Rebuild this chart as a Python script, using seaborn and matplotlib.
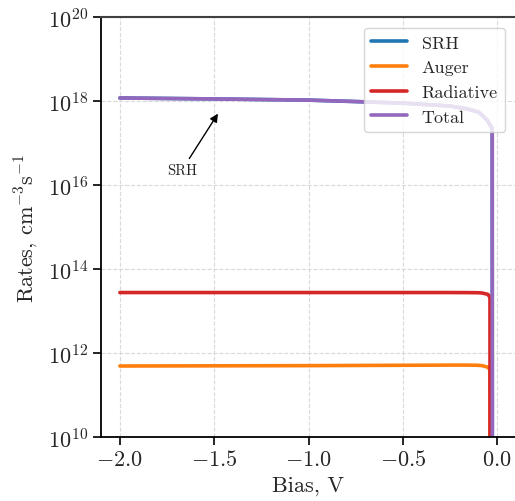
import numpy as np
import pandas as pd
import matplotlib
matplotlib.use("Agg")
import matplotlib.pyplot as plt
import seaborn as sns

# ---- data ----
bias = [-2.0, -1.5, -1.0, -0.75, -0.5, -0.25, -0.16, -0.1, -0.08, -0.05,
        -0.04, -0.038, -0.037, -0.03, -0.026, -0.025, 0.0]
srh = [1.18e18, 1.12e18, 1.05e18, 9.7e17, 8.9e17, 7.6e17, 6.5e17, 5.5e17,
       4.6e17, 3.4e17, 2.8e17, 2.7e17, 2.65e17, 2.4e17, 2.2e17, 1e3, 1e3]
auger = [4.9e11, 4.95e11, 5.0e11, 5.05e11, 5.1e11, 5.15e11, 5.15e11, 5.1e11,
         5.0e11, 4.6e11, 4.1e11, 4.0e11, 1e3, 1e3, 1e3, 1e3, 1e3]
radiative = [2.75e13, 2.75e13, 2.75e13, 2.75e13, 2.75e13, 2.75e13, 2.74e13,
             2.72e13, 2.68e13, 2.5e13, 2.2e13, 2.1e13, 1e3, 1e3, 1e3, 1e3, 1e3]
total = [s + a + r for s, a, r in zip(srh, auger, radiative)]

series_names = ["SRH", "Auger", "Radiative", "Total"]
series_values = [srh, auger, radiative, total]
series_colors = ["#1f77b4", "#ff7f0e", "#d62728", "#9467bd"]

xticks = [-2.0, -1.5, -1.0, -0.5, 0.0]
yticks = [1e10, 1e12, 1e14, 1e16, 1e18, 1e20]

rows = []
for name, vals in zip(series_names, series_values):
    for b, v in zip(bias, vals):
        rows.append({"Bias": b, "Rate": v, "Series": name})
df = pd.DataFrame(rows)

sns.set_style("ticks")
plt.rcParams["font.family"] = "serif"
plt.rcParams["font.serif"] = ["cmr10"]
plt.rcParams["mathtext.fontset"] = "cm"
plt.rcParams["axes.formatter.use_mathtext"] = True
plt.rcParams["axes.unicode_minus"] = True

fig = plt.figure(figsize=(5.15, 5.02), dpi=100)
ax = fig.add_axes([101 / 515, (502 - 438) / 502, 415 / 515, 420 / 502])

sns.lineplot(data=df, x="Bias", y="Rate", hue="Series", hue_order=series_names,
             palette=series_colors, linewidth=2.6, ax=ax, sort=False,
             estimator=None, legend=True)

ax.set_yscale("log")
ax.set_ylim(1e10, 1e20)
ax.set_xlim(-2.1, 0.1)
ax.set_xticks(xticks)
ax.set_yticks(yticks)
ax.yaxis.set_minor_locator(matplotlib.ticker.NullLocator())
ax.xaxis.set_major_formatter(matplotlib.ticker.FormatStrFormatter("$%.1f$"))

ax.grid(True, which="major", linestyle="--", color="#d9d9d9", linewidth=0.8)
ax.set_axisbelow(True)

ax.tick_params(axis="both", which="major", labelsize=16, length=5.5, width=1.2,
               direction="out", color="black")
for side in ["left", "bottom"]:
    ax.spines[side].set_color("black")
    ax.spines[side].set_linewidth(1.3)
ax.spines["top"].set_color("#404040")
ax.spines["top"].set_linewidth(1.5)
ax.spines["right"].set_visible(False)

ax.set_xlabel("Bias, V", fontsize=16)
ax.set_ylabel(r"Rates, cm$^{-3}$s$^{-1}$", fontsize=16, labelpad=6)

ax.annotate("SRH", xy=(-1.48, 5e17), xytext=(-1.67, 2.3e16),
            fontsize=10.5, ha="center", va="center",
            arrowprops=dict(arrowstyle="-|>", color="black", lw=1.0,
                            shrinkA=1, shrinkB=0, mutation_scale=12))

leg = ax.legend(loc="upper right", fontsize=13, frameon=True, framealpha=0.8,
                edgecolor="#cccccc", handlelength=2.0, borderaxespad=0.6)
for line in leg.get_lines():
    line.set_linewidth(2.6)

fig.savefig("out.png", dpi=100)
